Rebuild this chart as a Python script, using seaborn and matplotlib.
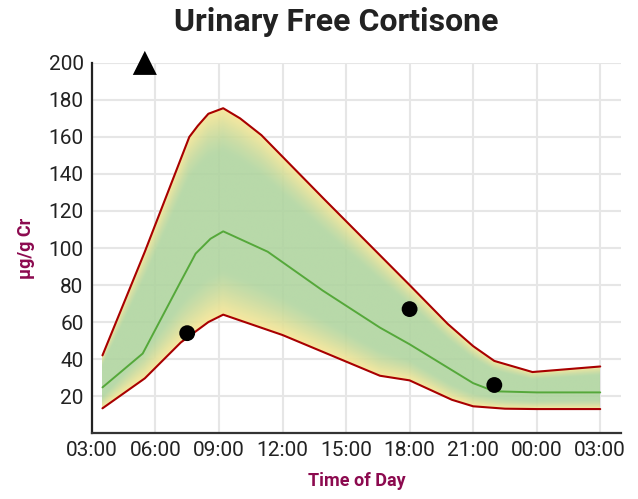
import numpy as np
import pandas as pd
import matplotlib
matplotlib.use("Agg")
import matplotlib.pyplot as plt
import seaborn as sns

# ---- data (hours since midnight; values > 24 are the next day) ----
upper_t = [3.5, 5.5, 7.6, 8.0, 8.5, 9.2, 10.0, 11.0, 14.0, 18.0, 19.8, 21.0, 22.0, 23.8, 27.0]
upper_v = [42, 98, 160, 166, 172.5, 175.5, 170, 161, 126, 80, 59, 47, 39, 33, 36]

lower_t = [3.5, 5.5, 7.2, 8.5, 9.2, 12.0, 16.6, 18.0, 20.0, 21.0, 22.5, 24.0, 27.0]
lower_v = [13.4, 29.6, 49, 60, 64, 53, 31, 28.5, 18, 14.5, 13.2, 13, 13]

median_t = [3.5, 5.4, 7.2, 7.9, 8.6, 9.2, 11.3, 13.9, 16.6, 18.0, 21.0, 22.0, 24.0, 27.0]
median_v = [24.7, 43, 82, 97, 105, 109, 98, 77, 57, 48, 27, 22.6, 22, 22]

point_t = [7.5, 18.0, 22.0]
point_v = [54, 67, 26]

high_t = [5.5]
high_v = [200]

tick_hours = [3, 6, 9, 12, 15, 18, 21, 24, 27]
tick_labels = ["03:00", "06:00", "09:00", "12:00", "15:00", "18:00", "21:00", "00:00", "03:00"]
y_ticks = [20, 40, 60, 80, 100, 120, 140, 160, 180, 200]

title = "Urinary Free Cortisone"
xlabel = "Time of Day"
ylabel = "µg/g Cr"

# ---- style ----
sns.set_style("white")
fam = ["Roboto", "DejaVu Sans"]
plt.rcParams["font.family"] = fam

fig = plt.figure(figsize=(6.38, 4.99), dpi=100)
ax = fig.add_axes([0.144, 0.132, 0.83, 0.742])

GREEN = np.array([176, 213, 160]) / 255
YELLOW = np.array([249, 230, 148]) / 255

# gradient band
xs = np.linspace(upper_t[0], upper_t[-1], 900)
ys = np.linspace(0, 200, 900)
hi = np.interp(xs, upper_t, upper_v)
lo = np.interp(xs, lower_t, lower_v)
X, Y = np.meshgrid(xs, ys)
u = (Y - lo[None, :]) / (hi - lo)[None, :]
w = np.minimum(u, 1 - u)
f = np.clip(1 - w / 0.22, 0, 1) ** 1.3
img = np.zeros(u.shape + (4,))
img[..., :3] = GREEN[None, None, :] * (1 - f[..., None]) + YELLOW[None, None, :] * f[..., None]
img[..., 3] = ((u >= 0) & (u <= 1)).astype(float) * 0.9
ax.imshow(img, extent=[xs[0], xs[-1], 0, 200], origin="lower", aspect="auto",
          interpolation="bilinear", zorder=1)

df_u = pd.DataFrame({"t": upper_t, "v": upper_v})
df_l = pd.DataFrame({"t": lower_t, "v": lower_v})
df_m = pd.DataFrame({"t": median_t, "v": median_v})
sns.lineplot(data=df_u, x="t", y="v", ax=ax, color="#a80000", lw=1.5, zorder=3, sort=False)
sns.lineplot(data=df_l, x="t", y="v", ax=ax, color="#a80000", lw=1.5, zorder=3, sort=False)
sns.lineplot(data=df_m, x="t", y="v", ax=ax, color="#55a83a", lw=1.4, zorder=3, sort=False)

sns.scatterplot(x=point_t, y=point_v, ax=ax, color="black", s=130, edgecolor="none", zorder=5)
sns.scatterplot(x=high_t, y=high_v, ax=ax, color="black", marker="^", s=300,
                edgecolor="none", zorder=5, clip_on=False)

ax.set_xlim(3, 28)
ax.set_ylim(0, 200)
ax.set_xticks(tick_hours)
ax.set_xticklabels(tick_labels)
ax.set_yticks(y_ticks)
ax.grid(True, color="#e6e6e6", lw=1.5, zorder=0)
ax.set_axisbelow(True)
for s in ["top", "right"]:
    ax.spines[s].set_visible(False)
ax.spines["left"].set_color("#222222")
ax.spines["left"].set_linewidth(1.6)
ax.spines["bottom"].set_color("#333333")
ax.spines["bottom"].set_linewidth(1.6)
ax.tick_params(axis="both", length=0, labelsize=15, labelcolor="#222222", pad=6)

ax.set_xlabel(xlabel, fontsize=13, fontweight="bold", color="#8c0a4f", labelpad=8)
ax.set_ylabel(ylabel, fontsize=13, fontweight="bold", color="#8c0a4f", labelpad=10)
fig.suptitle(title, x=0.527, y=0.985, fontsize=23, fontweight="bold", color="#222222")

fig.savefig("out.png", dpi=100)
